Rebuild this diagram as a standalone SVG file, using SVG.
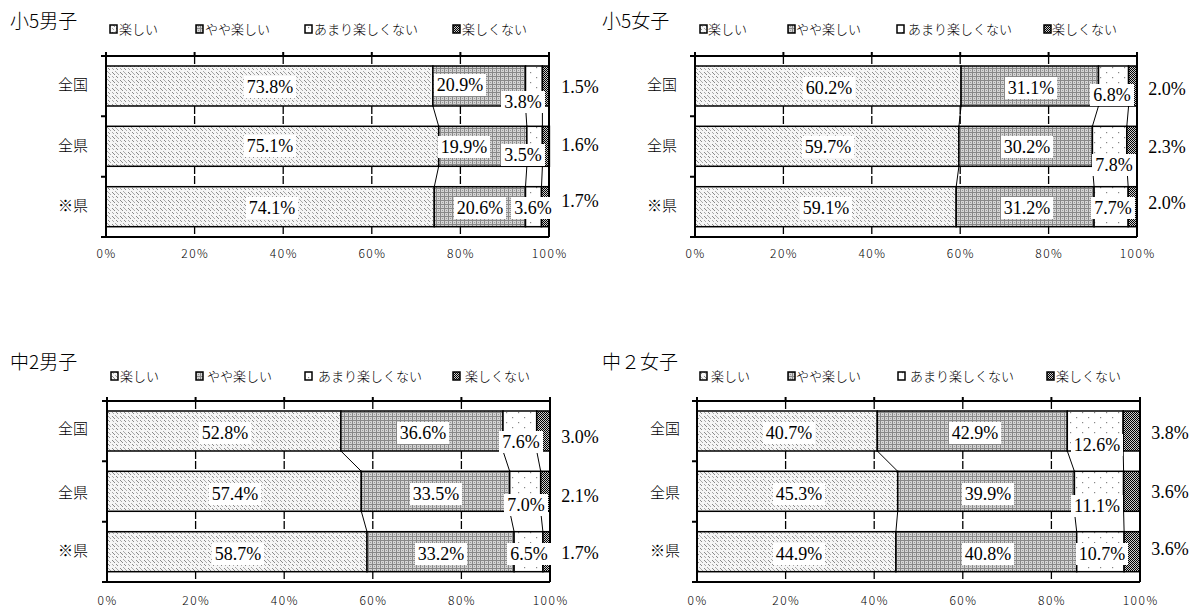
<svg xmlns="http://www.w3.org/2000/svg" width="1195" height="608" viewBox="0 0 1195 608">
<style>
.seg{stroke:#000;stroke-width:1.5}
.grid{stroke:#000;stroke-width:1.3;stroke-dasharray:8 2;fill:none}
.ax{stroke:#000;stroke-width:2;fill:none}
.sl{stroke:#000;stroke-width:1;fill:none}
.lb{fill:#fff}
.v{font-family:"Liberation Serif",serif;font-size:18px;text-anchor:middle;fill:#000}
.cat{font-family:"Noto Sans CJK JP",sans-serif;font-size:15px;font-weight:300;text-anchor:middle;fill:#000}
.tk{font-family:"Noto Sans CJK JP",sans-serif;font-size:12px;font-weight:300;text-anchor:middle;letter-spacing:1.5px;fill:#000}
.ttl{font-family:"Noto Sans CJK JP",sans-serif;font-size:19px;font-weight:300;fill:#000}
.lg{font-family:"Noto Sans CJK JP",sans-serif;font-size:13px;font-weight:300;fill:#000}
.lbox{stroke:#000;stroke-width:1.5}
.f1{fill:url(#p1)}.f2{fill:url(#p2)}.f3{fill:url(#p3)}.f4{fill:url(#p4)}
</style>
<defs>
<pattern id="p1" width="8" height="8" patternUnits="userSpaceOnUse">
<rect width="8" height="8" fill="#f6f6f6"/>
<rect x="0" y="0" width="1" height="1" fill="#8a8a8a"/><rect x="1" y="1" width="1" height="1" fill="#8a8a8a"/><rect x="2" y="2" width="1" height="1" fill="#8a8a8a"/>
<rect x="4" y="4" width="1" height="1" fill="#8a8a8a"/><rect x="5" y="5" width="1" height="1" fill="#8a8a8a"/>
<rect x="4" y="0" width="1" height="1" fill="#aaa"/><rect x="5" y="1" width="1" height="1" fill="#aaa"/><rect x="6" y="2" width="1" height="1" fill="#aaa"/>
<rect x="0" y="4" width="1" height="1" fill="#aaa"/><rect x="1" y="5" width="1" height="1" fill="#aaa"/><rect x="3" y="7" width="1" height="1" fill="#aaa"/>
</pattern>
<pattern id="p2" width="4" height="4" patternUnits="userSpaceOnUse">
<rect width="4" height="4" fill="#d4d4d4"/>
<rect width="4" height="1" fill="#888"/><rect width="1" height="4" fill="#888"/><rect x="2" y="2" width="1" height="1" fill="#999"/>
</pattern>
<pattern id="p3" width="12" height="10" patternUnits="userSpaceOnUse">
<rect width="12" height="10" fill="#fff"/>
<rect x="2" y="2" width="1.2" height="1.2" fill="#888"/><rect x="8" y="7" width="1.2" height="1.2" fill="#888"/>
</pattern>
<pattern id="p4" width="2" height="2" patternUnits="userSpaceOnUse">
<rect width="2" height="2" fill="#ccc"/>
<rect width="1" height="1" fill="#000"/><rect x="1" y="1" width="1" height="1" fill="#000"/>
</pattern>
</defs>
<rect width="1195" height="608" fill="#fff"/>

<!-- Chart 1 -->
<g id="chart1">
<text class="ttl" x="10" y="28">小5男子</text>
<g id="legend1">
<rect class="lbox f1" x="110" y="25" width="7" height="8"/><text class="lg" x="119" y="34">楽しい</text>
<rect class="lbox f2" x="196" y="25" width="7" height="8"/><text class="lg" x="205" y="34">やや楽しい</text>
<rect class="lbox f3" x="305" y="25" width="7" height="8"/><text class="lg" x="314" y="34">あまり楽しくない</text>
<rect class="lbox f4" x="453" y="25" width="7" height="8"/><text class="lg" x="462" y="34">楽しくない</text>
</g>
<g id="grid1">
<path class="grid" d="M194.6 56V237M283.2 56V237M371.8 56V237M460.4 56V237"/>
<path class="ax" d="M106 52V56M194.6 52V56M283.2 52V56M371.8 52V56M460.4 52V56"/>
</g>
<g id="bars1">
<rect class="seg f1" x="106" y="66" width="326.9" height="40"/>
<rect class="seg f2" x="432.9" y="66" width="92.6" height="40"/>
<rect class="seg f3" x="525.5" y="66" width="16.9" height="40"/>
<rect class="seg f4" x="542.4" y="66" width="6.6" height="40"/>
<rect class="seg f1" x="106" y="126.3" width="332.7" height="40"/>
<rect class="seg f2" x="438.7" y="126.3" width="88.15" height="40"/>
<rect class="seg f3" x="526.85" y="126.3" width="15.55" height="40"/>
<rect class="seg f4" x="542.4" y="126.3" width="7" height="40"/>
<rect class="seg f1" x="106" y="186.7" width="328.3" height="40"/>
<rect class="seg f2" x="434.3" y="186.7" width="91.2" height="40"/>
<rect class="seg f3" x="525.5" y="186.7" width="16" height="40"/>
<rect class="seg f4" x="541.5" y="186.7" width="7.5" height="40"/>
</g>
<g id="connectors1">
<path class="sl" d="M432.9 106L438.7 126.3M525.5 106L526.85 126.3M542.4 106L542.4 126.3"/>
<path class="sl" d="M438.7 166.3L434.3 186.7M526.85 166.3L525.5 186.7M542.4 166.3L541.5 186.7"/>
</g>
<path class="ax" d="M101 56H549M106 56V237M101 116.3H106M101 176.7H106M101 237H549M549 52V237"/>
<g id="labels1">
<rect class="lb" x="244" y="76" width="52" height="22"/><text class="v" x="270" y="93">73.8%</text>
<rect class="lb" x="434" y="74" width="52" height="22"/><text class="v" x="460" y="91">20.9%</text>
<rect class="lb" x="501" y="91" width="44" height="22"/><text class="v" x="523" y="108">3.8%</text>
<text class="v" x="580" y="93">1.5%</text>
<rect class="lb" x="244" y="135" width="52" height="22"/><text class="v" x="270" y="152">75.1%</text>
<rect class="lb" x="438" y="136" width="52" height="22"/><text class="v" x="464" y="153">19.9%</text>
<rect class="lb" x="501" y="144" width="44" height="22"/><text class="v" x="523" y="161">3.5%</text>
<text class="v" x="580" y="151">1.6%</text>
<rect class="lb" x="246" y="197" width="52" height="22"/><text class="v" x="272" y="214">74.1%</text>
<rect class="lb" x="454" y="197" width="52" height="22"/><text class="v" x="480" y="214">20.6%</text>
<rect class="lb" x="511" y="197" width="44" height="22"/><text class="v" x="533" y="214">3.6%</text>
<text class="v" x="580" y="207">1.7%</text>
</g>
<g id="cats1">
<text class="cat" x="73" y="89.5">全国</text>
<text class="cat" x="73" y="150.5">全県</text>
<text class="cat" x="73" y="210.5">※県</text>
</g>
<g id="ticks1">
<text class="tk" x="106.7" y="257.5">0%</text><text class="tk" x="195.3" y="257.5">20%</text><text class="tk" x="283.9" y="257.5">40%</text>
<text class="tk" x="372.5" y="257.5">60%</text><text class="tk" x="461.1" y="257.5">80%</text><text class="tk" x="549.7" y="257.5">100%</text>
</g>
</g>

<!-- Chart 2 -->
<g id="chart2">
<text class="ttl" x="602" y="28">小5女子</text>
<g id="legend2">
<rect class="lbox f1" x="700" y="25" width="7" height="8"/><text class="lg" x="708" y="34">楽しい</text>
<rect class="lbox f2" x="788" y="25" width="7" height="8"/><text class="lg" x="796" y="34">やや楽しい</text>
<rect class="lbox f3" x="897" y="25" width="7" height="8"/><text class="lg" x="908" y="34">あまり楽しくない</text>
<rect class="lbox f4" x="1044" y="25" width="7" height="8"/><text class="lg" x="1052" y="34">楽しくない</text>
</g>
<g id="grid2">
<path class="grid" d="M783.4 56V237M871.8 56V237M960.2 56V237M1048.6 56V237"/>
<path class="ax" d="M695 52V56M783.4 52V56M871.8 52V56M960.2 52V56M1048.6 52V56"/>
</g>
<g id="bars2">
<rect class="seg f1" x="695" y="66" width="266.1" height="40"/>
<rect class="seg f2" x="961.1" y="66" width="137.4" height="40"/>
<rect class="seg f3" x="1098.5" y="66" width="30.1" height="40"/>
<rect class="seg f4" x="1128.6" y="66" width="8.4" height="40"/>
<rect class="seg f1" x="695" y="126.3" width="263.9" height="40"/>
<rect class="seg f2" x="958.9" y="126.3" width="133.5" height="40"/>
<rect class="seg f3" x="1092.4" y="126.3" width="34.4" height="40"/>
<rect class="seg f4" x="1126.8" y="126.3" width="10.2" height="40"/>
<rect class="seg f1" x="695" y="186.7" width="261.2" height="40"/>
<rect class="seg f2" x="956.2" y="186.7" width="137.9" height="40"/>
<rect class="seg f3" x="1094.1" y="186.7" width="34.1" height="40"/>
<rect class="seg f4" x="1128.2" y="186.7" width="8.8" height="40"/>
</g>
<g id="connectors2">
<path class="sl" d="M961.1 106L958.9 126.3M1098.5 106L1092.4 126.3M1128.6 106L1126.8 126.3"/>
<path class="sl" d="M958.9 166.3L956.2 186.7M1092.4 166.3L1094.1 186.7M1126.8 166.3L1128.2 186.7"/>
</g>
<path class="ax" d="M690 56H1137M695 56V237M690 116.3H695M690 176.7H695M690 237H1137M1137 52V237"/>
<g id="labels2">
<rect class="lb" x="803" y="77" width="52" height="22"/><text class="v" x="829" y="94">60.2%</text>
<rect class="lb" x="1005" y="77" width="52" height="22"/><text class="v" x="1031" y="94">31.1%</text>
<rect class="lb" x="1090" y="84" width="44" height="22"/><text class="v" x="1112" y="101">6.8%</text>
<text class="v" x="1167" y="95">2.0%</text>
<rect class="lb" x="802" y="136" width="52" height="22"/><text class="v" x="828" y="153">59.7%</text>
<rect class="lb" x="1001" y="136" width="52" height="22"/><text class="v" x="1027" y="153">30.2%</text>
<rect class="lb" x="1092" y="154" width="44" height="22"/><text class="v" x="1114" y="171">7.8%</text>
<text class="v" x="1167" y="153">2.3%</text>
<rect class="lb" x="800" y="197" width="52" height="22"/><text class="v" x="826" y="214">59.1%</text>
<rect class="lb" x="1001" y="197" width="52" height="22"/><text class="v" x="1027" y="214">31.2%</text>
<rect class="lb" x="1091" y="197" width="44" height="22"/><text class="v" x="1113" y="214">7.7%</text>
<text class="v" x="1167" y="209">2.0%</text>
</g>
<g id="cats2">
<text class="cat" x="662" y="89.5">全国</text>
<text class="cat" x="662" y="150.5">全県</text>
<text class="cat" x="662" y="210.5">※県</text>
</g>
<g id="ticks2">
<text class="tk" x="695.7" y="257.5">0%</text><text class="tk" x="784.1" y="257.5">20%</text><text class="tk" x="872.5" y="257.5">40%</text>
<text class="tk" x="960.9" y="257.5">60%</text><text class="tk" x="1049.3" y="257.5">80%</text><text class="tk" x="1137.7" y="257.5">100%</text>
</g>
</g>

<!-- Chart 3 -->
<g id="chart3">
<text class="ttl" x="10" y="369">中2男子</text>
<g id="legend3">
<rect class="lbox f1" x="111" y="372" width="7" height="8"/><text class="lg" x="120" y="381">楽しい</text>
<rect class="lbox f2" x="196" y="372" width="7" height="8"/><text class="lg" x="207" y="381">やや楽しい</text>
<rect class="lbox f3" x="305" y="372" width="7" height="8"/><text class="lg" x="318" y="381">あまり楽しくない</text>
<rect class="lbox f4" x="453" y="372" width="7" height="8"/><text class="lg" x="465" y="381">楽しくない</text>
</g>
<g id="grid3">
<path class="grid" d="M195.6 401V582M284.2 401V582M372.8 401V582M461.4 401V582"/>
<path class="ax" d="M107 397V401M195.6 397V401M284.2 397V401M372.8 397V401M461.4 397V401"/>
</g>
<g id="bars3">
<rect class="seg f1" x="107" y="411" width="233.9" height="40"/>
<rect class="seg f2" x="340.9" y="411" width="162.1" height="40"/>
<rect class="seg f3" x="503" y="411" width="33.7" height="40"/>
<rect class="seg f4" x="536.7" y="411" width="13.3" height="40"/>
<rect class="seg f1" x="107" y="471.3" width="254.3" height="40"/>
<rect class="seg f2" x="361.3" y="471.3" width="148.4" height="40"/>
<rect class="seg f3" x="509.7" y="471.3" width="31" height="40"/>
<rect class="seg f4" x="540.7" y="471.3" width="9.3" height="40"/>
<rect class="seg f1" x="107" y="531.7" width="260" height="40"/>
<rect class="seg f2" x="367" y="531.7" width="147.1" height="40"/>
<rect class="seg f3" x="514.1" y="531.7" width="28.8" height="40"/>
<rect class="seg f4" x="542.9" y="531.7" width="7.1" height="40"/>
</g>
<g id="connectors3">
<path class="sl" d="M340.9 451L361.3 471.3M503 451L509.7 471.3M536.7 451L540.7 471.3"/>
<path class="sl" d="M361.3 511.3L367 531.7M509.7 511.3L514.1 531.7M540.7 511.3L542.9 531.7"/>
</g>
<path class="ax" d="M102 401H550M107 401V582M102 461.3H107M102 521.7H107M102 582H550M550 397V582"/>
<g id="labels3">
<rect class="lb" x="199" y="422" width="52" height="22"/><text class="v" x="225" y="439">52.8%</text>
<rect class="lb" x="397" y="422" width="52" height="22"/><text class="v" x="423" y="439">36.6%</text>
<rect class="lb" x="499" y="431" width="44" height="22"/><text class="v" x="521" y="448">7.6%</text>
<text class="v" x="580" y="443">3.0%</text>
<rect class="lb" x="209" y="483" width="52" height="22"/><text class="v" x="235" y="500">57.4%</text>
<rect class="lb" x="410" y="483" width="52" height="22"/><text class="v" x="436" y="500">33.5%</text>
<rect class="lb" x="504" y="494" width="44" height="22"/><text class="v" x="526" y="511">7.0%</text>
<text class="v" x="580" y="502">2.1%</text>
<rect class="lb" x="212" y="543" width="52" height="22"/><text class="v" x="238" y="560">58.7%</text>
<rect class="lb" x="415" y="543" width="52" height="22"/><text class="v" x="441" y="560">33.2%</text>
<rect class="lb" x="507" y="543" width="44" height="22"/><text class="v" x="529" y="560">6.5%</text>
<text class="v" x="580" y="559">1.7%</text>
</g>
<g id="cats3">
<text class="cat" x="73" y="433.5">全国</text>
<text class="cat" x="73" y="497.5">全県</text>
<text class="cat" x="73" y="555.5">※県</text>
</g>
<g id="ticks3">
<text class="tk" x="107.7" y="604.5">0%</text><text class="tk" x="196.3" y="604.5">20%</text><text class="tk" x="284.9" y="604.5">40%</text>
<text class="tk" x="373.5" y="604.5">60%</text><text class="tk" x="462.1" y="604.5">80%</text><text class="tk" x="550.7" y="604.5">100%</text>
</g>
</g>

<!-- Chart 4 -->
<g id="chart4">
<text class="ttl" x="602" y="369">中２女子</text>
<g id="legend4">
<rect class="lbox f1" x="700" y="372" width="7" height="8"/><text class="lg" x="711" y="381">楽しい</text>
<rect class="lbox f2" x="788" y="372" width="7" height="8"/><text class="lg" x="796" y="381">やや楽しい</text>
<rect class="lbox f3" x="898" y="372" width="7" height="8"/><text class="lg" x="910" y="381">あまり楽しくない</text>
<rect class="lbox f4" x="1047" y="372" width="7" height="8"/><text class="lg" x="1056" y="381">楽しくない</text>
</g>
<g id="grid4">
<path class="grid" d="M785.6 401V582M874.2 401V582M962.8 401V582M1051.4 401V582"/>
<path class="ax" d="M697 397V401M785.6 397V401M874.2 397V401M962.8 397V401M1051.4 397V401"/>
</g>
<g id="bars4">
<rect class="seg f1" x="697" y="411" width="180.3" height="40"/>
<rect class="seg f2" x="877.3" y="411" width="190" height="40"/>
<rect class="seg f3" x="1067.3" y="411" width="55.9" height="40"/>
<rect class="seg f4" x="1123.2" y="411" width="16.8" height="40"/>
<rect class="seg f1" x="697" y="471.3" width="200.7" height="40"/>
<rect class="seg f2" x="897.7" y="471.3" width="176.7" height="40"/>
<rect class="seg f3" x="1074.4" y="471.3" width="49.2" height="40"/>
<rect class="seg f4" x="1123.6" y="471.3" width="16" height="40"/>
<rect class="seg f1" x="697" y="531.7" width="198.9" height="40"/>
<rect class="seg f2" x="895.9" y="531.7" width="180.8" height="40"/>
<rect class="seg f3" x="1076.7" y="531.7" width="47.4" height="40"/>
<rect class="seg f4" x="1124.1" y="531.7" width="15.9" height="40"/>
</g>
<g id="connectors4">
<path class="sl" d="M877.3 451L897.7 471.3M1067.3 451L1074.4 471.3M1123.2 451L1123.6 471.3"/>
<path class="sl" d="M897.7 511.3L895.9 531.7M1074.4 511.3L1076.7 531.7M1123.6 511.3L1124.1 531.7"/>
</g>
<path class="ax" d="M692 401H1140M697 401V582M692 461.3H697M692 521.7H697M692 582H1140M1140 397V582"/>
<g id="labels4">
<rect class="lb" x="763" y="422" width="52" height="22"/><text class="v" x="789" y="439">40.7%</text>
<rect class="lb" x="949" y="422" width="52" height="22"/><text class="v" x="975" y="439">42.9%</text>
<rect class="lb" x="1071" y="434" width="52" height="22"/><text class="v" x="1097" y="451">12.6%</text>
<text class="v" x="1170" y="439">3.8%</text>
<rect class="lb" x="773" y="483" width="52" height="22"/><text class="v" x="799" y="500">45.3%</text>
<rect class="lb" x="962" y="483" width="52" height="22"/><text class="v" x="988" y="500">39.9%</text>
<rect class="lb" x="1071" y="495" width="52" height="22"/><text class="v" x="1097" y="512">11.1%</text>
<text class="v" x="1170" y="498">3.6%</text>
<rect class="lb" x="773" y="543" width="52" height="22"/><text class="v" x="799" y="560">44.9%</text>
<rect class="lb" x="962" y="543" width="52" height="22"/><text class="v" x="988" y="560">40.8%</text>
<rect class="lb" x="1076" y="543" width="52" height="22"/><text class="v" x="1102" y="560">10.7%</text>
<text class="v" x="1170" y="555">3.6%</text>
</g>
<g id="cats4">
<text class="cat" x="665" y="433.5">全国</text>
<text class="cat" x="665" y="497.5">全県</text>
<text class="cat" x="665" y="555.5">※県</text>
</g>
<g id="ticks4">
<text class="tk" x="697.7" y="604.5">0%</text><text class="tk" x="786.3" y="604.5">20%</text><text class="tk" x="874.9" y="604.5">40%</text>
<text class="tk" x="963.5" y="604.5">60%</text><text class="tk" x="1052.1" y="604.5">80%</text><text class="tk" x="1140.7" y="604.5">100%</text>
</g>
</g>
</svg>
